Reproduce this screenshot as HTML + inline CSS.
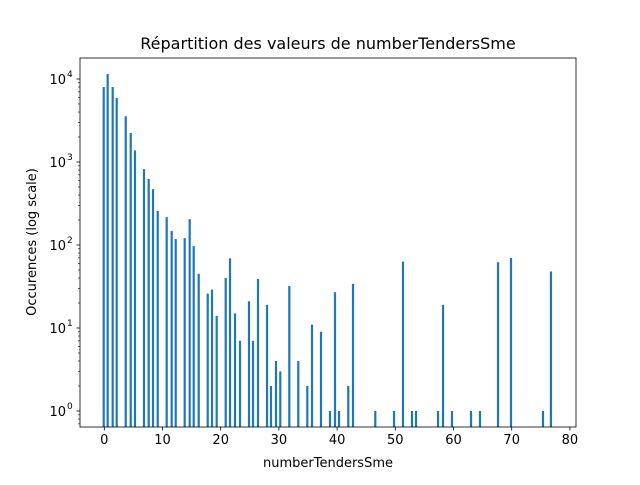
<!DOCTYPE html>
<html><head><meta charset="utf-8"><style>
body{margin:0;background:#fff}
svg text{font-family:"DejaVu Sans","Liberation Sans",sans-serif;fill:#000}
</style></head><body>
<svg id="chart" width="640" height="480" viewBox="0 0 640 480" xmlns="http://www.w3.org/2000/svg">
<rect width="640" height="480" fill="#fff"/>
<text x="328" y="49" font-size="16" text-anchor="middle">Répartition des valeurs de numberTendersSme</text>
<g id="bars"></g>
<g id="axes"></g>
<rect x="80" y="58" width="496" height="369" fill="none" stroke="#000" stroke-width="0.8"/>
<text x="328" y="467" font-size="13" text-anchor="middle">numberTendersSme</text>
<text transform="translate(36,242) rotate(-90)" font-size="13" text-anchor="middle">Occurences (log scale)</text>
</svg>
<script>
const binCenters=[-0.1,0.58,1.44,2.13,3.68,4.54,5.27,6.82,7.63,8.37,9.18,10.72,11.58,12.27,13.81,14.67,15.36,16.22,17.77,18.51,19.31,20.86,21.60,22.46,23.32,24.86,25.55,26.41,27.96,28.64,29.50,30.24,31.79,33.33,34.88,35.69,37.23,38.78,39.64,40.33,41.92,42.73,46.56,49.78,51.32,52.87,53.56,57.34,58.20,59.74,63.01,64.55,67.65,69.88,75.38,76.74];
const counts=[8000,11500,8000,5900,3560,2240,1380,820,625,470,257,217,148,118,121,205,97,45,26,29,14,40,69,15,7,21,7,39,19,2,4,3,32,4,2,11,9,1,27,1,2,34,1,1,63,1,1,1,19,1,1,1,62,70,1,48];
const xTicks=[0,10,20,30,40,50,60,70,80];
const yTickExps=[0,1,2,3,4];
const NS="http://www.w3.org/2000/svg";
const xs=v=>104.3+v*5.82;
const ys=v=>411-Math.log10(v)*83;
const bars=document.getElementById('bars'),axes=document.getElementById('axes');
function mk(tag,attrs,parent){const e=document.createElementNS(NS,tag);for(const k in attrs)e.setAttribute(k,attrs[k]);parent.appendChild(e);return e;}
const base=427;
binCenters.forEach((c,i)=>{
  const y=ys(counts[i]);
  const r=mk('rect',{x:xs(c)-1.1,y:y,width:2.2,height:base-y,fill:'#1f77b4'},bars);
  
  
});
xTicks.forEach(t=>{
  const x=xs(t);
  const l=mk('line',{x1:x,x2:x,y1:427,y2:430.5,stroke:'#000','stroke-width':0.8},axes);
  
  
  const tx=mk('text',{x:x,y:444,'font-size':13,'text-anchor':'middle'},axes);
  tx.textContent=t;
  
  
});
yTickExps.forEach(e=>{
  const y=ys(Math.pow(10,e));
  const l=mk('line',{x1:76.5,x2:80,y1:y,y2:y,stroke:'#000','stroke-width':0.8},axes);
  
  
  const tx=mk('text',{x:66,y:y+5,'font-size':13,'text-anchor':'end'},axes);
  tx.textContent='10';
  
  
  const sp=mk('text',{x:67,y:y-2,'font-size':9},axes);
  sp.textContent=e;
  
  
});
for(let e=-1;e<=4;e++){for(let m=2;m<=9;m++){
  const v=m*Math.pow(10,e);const y=ys(v);
  if(y<58||y>427)continue;
  const l=mk('line',{x1:78,x2:80,y1:y,y2:y,stroke:'#000','stroke-width':0.6},axes);
  
  
}}
</script>
</body></html>
